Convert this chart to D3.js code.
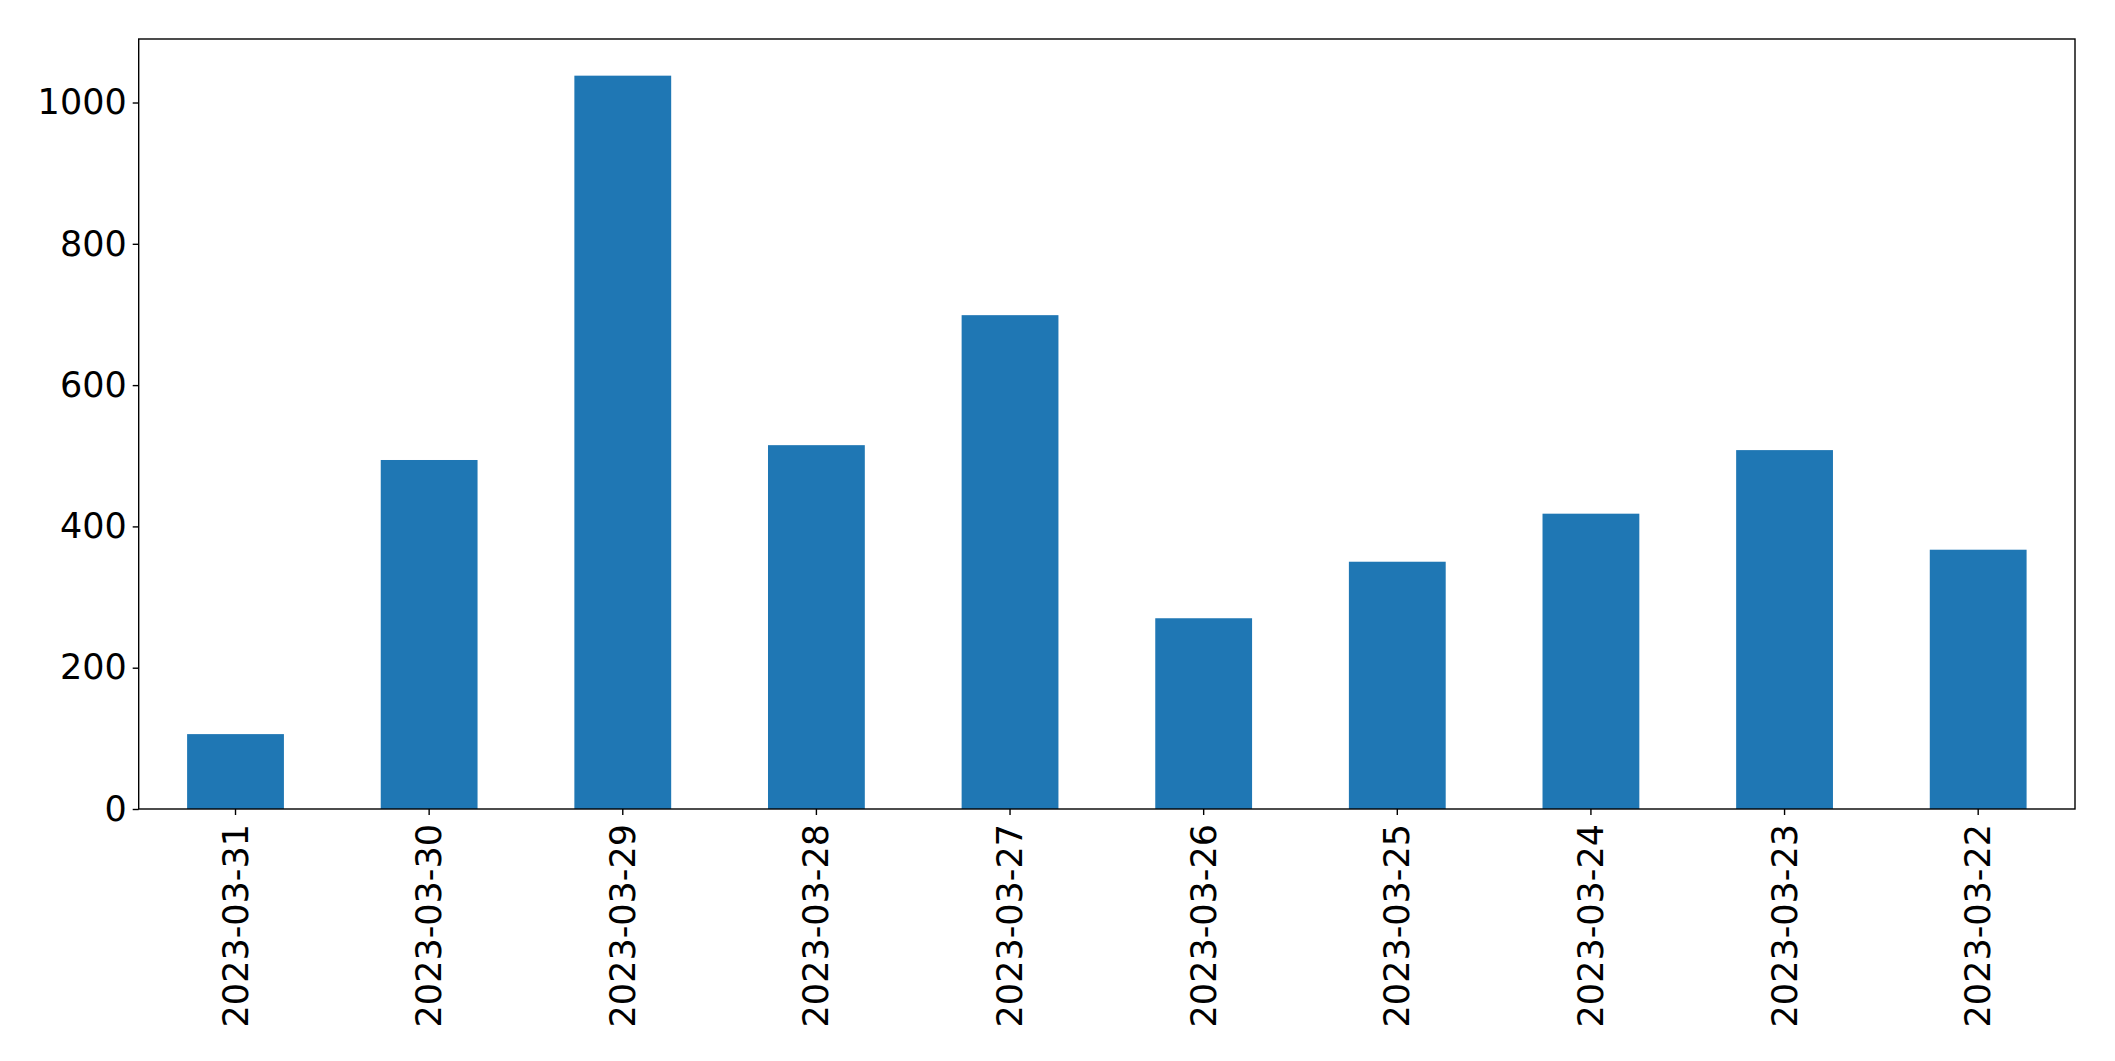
<!DOCTYPE html>
<html>
<head>
<meta charset="utf-8">
<script src="https://cdn.jsdelivr.net/npm/d3@7"></script>
<style>
  html, body { margin: 0; padding: 0; background: #fff; }
  svg { display: block; }
  text { font-family: "DejaVu Sans", sans-serif; }
</style>
</head>
<body>
<svg id="chart" width="2115" height="1061"></svg>
<script>
const categories = ["2023-03-31","2023-03-30","2023-03-29","2023-03-28","2023-03-27","2023-03-26","2023-03-25","2023-03-24","2023-03-23","2023-03-22"];
const values = [106, 494, 1038, 515, 699, 270, 350, 418, 508, 367];
const yTicks = [0, 200, 400, 600, 800, 1000];

const W = 2115, H = 1061;
const margin = {left: 138.7, top: 39, right: W - 2075, bottom: H - 809};
const innerW = W - margin.left - margin.right;
const innerH = H - margin.top - margin.bottom;

const svg = d3.select("#chart");
svg.append("rect").attr("width", W).attr("height", H).attr("fill", "#fff");
const g = svg.append("g").attr("transform", `translate(${margin.left},${margin.top})`);

const x = d3.scaleBand().domain(categories).range([0, innerW]).paddingInner(0.5).paddingOuter(0.25);
const y = d3.scaleLinear().domain([0, d3.max(values) * 1.05]).range([innerH, 0]);

g.selectAll("rect.bar").data(values).enter().append("rect")
  .attr("class", "bar")
  .attr("x", (d, i) => x(categories[i]))
  .attr("y", d => y(d))
  .attr("width", x.bandwidth())
  .attr("height", d => y(0) - y(d))
  .attr("fill", "#1f77b4");

const tickLen = 6, pad = 6, fs = 35;

const yAxis = g.append("g").call(d3.axisLeft(y).tickValues(yTicks).tickSize(tickLen).tickPadding(pad).tickFormat(d3.format("d")));
yAxis.select(".domain").remove();
yAxis.selectAll("line").attr("stroke", "#000").attr("stroke-width", 1.4);
yAxis.selectAll("text").attr("font-size", fs).attr("fill", "#000").attr("font-family", "DejaVu Sans");

const xAxis = g.append("g").attr("transform", `translate(0,${innerH})`)
  .call(d3.axisBottom(x).tickSize(tickLen).tickPadding(pad));
xAxis.select(".domain").remove();
xAxis.selectAll("line").attr("stroke", "#000").attr("stroke-width", 1.4);
xAxis.selectAll("text")
  .attr("font-size", fs).attr("fill", "#000").attr("font-family", "DejaVu Sans")
  .attr("text-anchor", "end")
  .attr("dy", null)
  .attr("dominant-baseline", "central")
  .attr("y", 0)
  .attr("transform", `translate(0,${tickLen + pad + 3}) rotate(-90)`);

g.append("rect").attr("x", 0).attr("y", 0).attr("width", innerW).attr("height", innerH)
  .attr("fill", "none").attr("stroke", "#000").attr("stroke-width", 1.4);
</script>
</body>
</html>
